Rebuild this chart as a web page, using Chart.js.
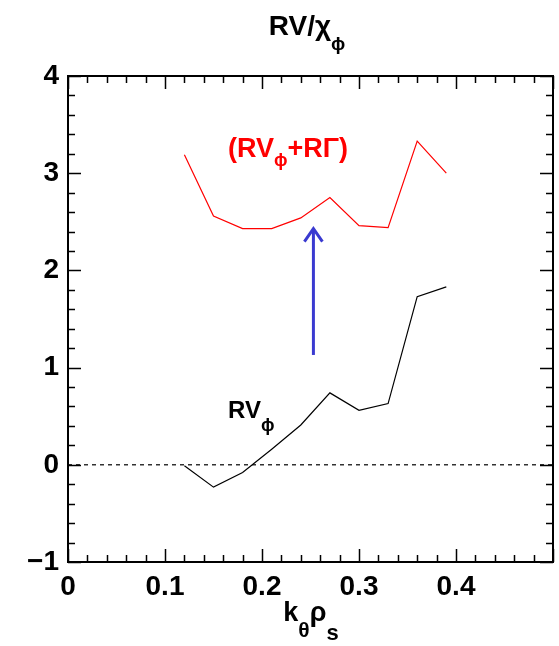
<!DOCTYPE html>
<html>
<head>
<meta charset="utf-8">
<script src="https://cdn.jsdelivr.net/npm/chart.js@4.4.0/dist/chart.umd.min.js"></script>
<style>
html,body{margin:0;padding:0;background:#fff;}
#wrap{width:559px;height:646px;position:relative;}
</style>
</head>
<body>
<div id="wrap"><canvas id="c" width="559" height="646"></canvas></div>
<script>
// ---- data ----
const kTheta = [0.12, 0.15, 0.18, 0.21, 0.24, 0.27, 0.30, 0.33, 0.36, 0.39];
const rvPhi = [-0.01, -0.23, -0.08, 0.16, 0.41, 0.74, 0.56, 0.63, 1.73, 1.83];
const rvPlusRGamma = [3.19, 2.56, 2.43, 2.43, 2.54, 2.75, 2.46, 2.44, 3.33, 3.00];
const arrowX = 0.253, arrowFrom = 1.13, arrowTo = 2.44;
const xMin = 0, xMax = 0.5, yMin = -1, yMax = 4;
const xTickLabels = ['0', '0.1', '0.2', '0.3', '0.4'];
const yTickLabels = ['\u22121', '0', '1', '2', '3', '4'];

const FONT = '"Liberation Sans", Arial, Helvetica, sans-serif';
const PHI = '\u03d5';

function pts(xs, ys){ return xs.map((x,i)=>({x:x, y:ys[i]})); }

function drawSub(ctx, parts, x, y, color){
  // parts: [text, size, dy, weight, extraSpace]
  ctx.save();
  ctx.fillStyle = color;
  ctx.textBaseline = 'alphabetic';
  ctx.textAlign = 'left';
  let cx = x;
  for (const p of parts){
    ctx.font = (p[3]||'bold') + ' ' + p[1] + 'px ' + FONT;
    ctx.fillText(p[0], cx, y + p[2]);
    cx += ctx.measureText(p[0]).width + (p[4]||0);
  }
  ctx.restore();
  return cx - x;
}
function measureParts(ctx, parts){
  let w = 0;
  for (const p of parts){ ctx.font = (p[3]||'bold') + ' ' + p[1] + 'px ' + FONT; w += ctx.measureText(p[0]).width + (p[4]||0); }
  return w;
}

const decor = {
  id: 'decor',
  afterDraw(chart){
    const ctx = chart.ctx, a = chart.chartArea;
    const xs = chart.scales.x, ys = chart.scales.y;
    ctx.save();
    // ticks
    ctx.strokeStyle = '#000'; ctx.lineWidth = 1.5;
    ctx.beginPath();
    for (let i = 0; i <= 25; i++){
      const v = i * 0.02, px = Math.round(xs.getPixelForValue(v)) + 0.5;
      const len = (i % 5 === 0) ? 13 : 7;
      ctx.moveTo(px, a.bottom); ctx.lineTo(px, a.bottom - len);
      ctx.moveTo(px, a.top); ctx.lineTo(px, a.top + len);
    }
    for (let i = 0; i <= 25; i++){
      const v = yMin + i * 0.2, py = Math.round(ys.getPixelForValue(v)) + 0.5;
      const len = (i % 5 === 0) ? 13 : 7;
      ctx.moveTo(a.left, py); ctx.lineTo(a.left + len, py);
      ctx.moveTo(a.right, py); ctx.lineTo(a.right - len, py);
    }
    ctx.stroke();
    // frame
    ctx.lineWidth = 2;
    ctx.strokeRect(a.left, a.top, a.right - a.left, a.bottom - a.top);

    // arrow
    const ax = xs.getPixelForValue(arrowX);
    const ay0 = ys.getPixelForValue(arrowFrom), ay1 = ys.getPixelForValue(arrowTo);
    ctx.strokeStyle = '#3a3ad0'; ctx.lineWidth = 3; ctx.lineCap = 'butt';
    ctx.beginPath(); ctx.moveTo(ax, ay0); ctx.lineTo(ax, ay1 + 1); ctx.stroke();
    ctx.beginPath(); ctx.moveTo(ax - 9, ay1 + 14); ctx.lineTo(ax, ay1 + 1); ctx.lineTo(ax + 9, ay1 + 14); ctx.stroke();

    // title
    const tparts = [['RV/\u03c7', 28, 0], [PHI, 19, 15]];
    const tw = measureParts(ctx, tparts);
    drawSub(ctx, tparts, 307 - tw/2, 35, '#000');

    // x title
    const xparts = [['k', 27, 0], ['\u03b8', 21, 16], ['\u03c1', 27, 0], ['s', 22, 19]];
    const xw = measureParts(ctx, xparts);
    drawSub(ctx, xparts, 311 - xw/2, 621, '#000');

    // in-plot labels
    drawSub(ctx, [['(RV', 27, 0], [PHI, 18, 9], ['+R\u0393)', 27, 0]], 228, 157, '#ff0000');
    drawSub(ctx, [['RV', 24, 0], [PHI, 18, 13]], 228, 418, '#000');
    ctx.restore();
  }
};

new Chart(document.getElementById('c'), {
  type: 'line',
  data: {
    datasets: [
      { data: pts(kTheta, rvPlusRGamma), borderColor: '#ff0000', borderWidth: 1.2, pointRadius: 0, tension: 0, fill: false },
      { data: pts(kTheta, rvPhi), borderColor: '#000', borderWidth: 1.2, pointRadius: 0, tension: 0, fill: false },
      { data: [{x: xMin, y: 0}, {x: xMax, y: 0}], borderColor: '#000', borderWidth: 1.2, borderDash: [4, 4], pointRadius: 0, fill: false }
    ]
  },
  options: {
    responsive: false,
    animation: false,
    devicePixelRatio: 1,
    layout: { padding: { left: 0, right: 6, top: 76, bottom: 0 } },
    plugins: { legend: { display: false }, tooltip: { enabled: false }, title: { display: false } },
    scales: {
      x: {
        type: 'linear', min: xMin, max: xMax,
        grid: { display: false, drawTicks: false },
        border: { display: false },
        afterFit(s){ s.height = 84; },
        afterBuildTicks(s){ s.ticks = xTickLabels.map((t, i) => ({ value: i * 0.1 })); },
        ticks: {
          padding: 8, color: '#000', maxRotation: 0, autoSkip: false,
          font: { family: FONT, size: 28, weight: 'bold' },
          callback(v, i){ return xTickLabels[i]; }
        }
      },
      y: {
        type: 'linear', min: yMin, max: yMax,
        grid: { display: false, drawTicks: false },
        border: { display: false },
        afterFit(s){ s.width = 68; },
        afterBuildTicks(s){ s.ticks = yTickLabels.map((t, i) => ({ value: yMin + i })); },
        ticks: {
          padding: 9, color: '#000', autoSkip: false,
          font: { family: FONT, size: 28, weight: 'bold' },
          callback(v, i){ return yTickLabels[i]; }
        }
      }
    }
  },
  plugins: [decor]
});
</script>
</body>
</html>
